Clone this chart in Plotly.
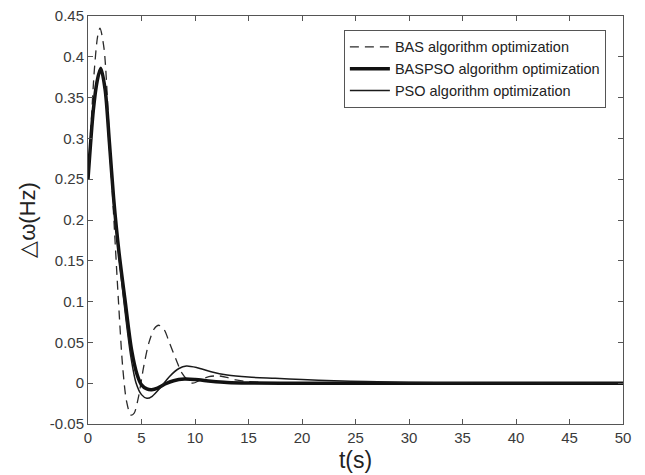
import plotly.graph_objects as go

# BAS algorithm optimization (dashed)
t_bas = [0, 0.3, 0.6, 0.9, 1.12, 1.5, 2.0, 2.37, 2.84, 3.24, 3.6, 4.0, 4.3, 4.7, 5.2, 5.7, 6.2, 6.6, 7.1, 7.6, 8.2, 8.8, 9.3, 9.8, 10.5, 11.3, 12.2, 13.0, 13.8, 15.0, 17.0, 20.0, 30.0, 50.0]
y_bas = [0.25, 0.32, 0.385, 0.425, 0.435, 0.41, 0.30, 0.212, 0.102, 0.02, -0.022, -0.039, -0.037, -0.018, 0.02, 0.05, 0.067, 0.071, 0.066, 0.05, 0.03, 0.012, 0.004, 0.0, 0.004, 0.008, 0.009, 0.007, 0.004, 0.002, 0.0005, 0.0, 0.0, 0.0]

# BASPSO algorithm optimization (thick)
t_baspso = [0, 0.5, 0.85, 1.19, 1.6, 2.0, 2.4, 2.9, 3.46, 4.07, 4.6, 5.0, 5.5, 5.95, 6.5, 7.2, 8.0, 9.0, 10.0, 11.5, 13.0, 15.0, 20.0, 30.0, 50.0]
y_baspso = [0.25, 0.335, 0.37, 0.386, 0.36, 0.295, 0.226, 0.16, 0.102, 0.041, 0.01, -0.002, -0.007, -0.008, -0.006, -0.001, 0.003, 0.005, 0.0045, 0.0025, 0.001, 0.0003, 0.0, 0.0, 0.0]

# PSO algorithm optimization (thin)
t_pso = [0, 0.5, 0.85, 1.2, 1.6, 2.0, 2.4, 2.9, 3.4, 4.0, 4.5, 5.0, 5.5, 6.0, 6.8, 7.6, 8.5, 9.2, 10.2, 11.5, 13.0, 15.0, 17.5, 20.0, 23.0, 26.0, 30.0, 35.0, 40.0, 50.0]
y_pso = [0.25, 0.335, 0.37, 0.385, 0.358, 0.29, 0.22, 0.155, 0.095, 0.033, 0.0, -0.014, -0.0185, -0.016, -0.005, 0.008, 0.018, 0.021, 0.019, 0.014, 0.01, 0.0075, 0.006, 0.0045, 0.003, 0.002, 0.001, 0.0004, 0.0001, 0.0]

x_ticks = [0, 5, 10, 15, 20, 25, 30, 35, 40, 45, 50]
y_ticks = [-0.05, 0, 0.05, 0.1, 0.15, 0.2, 0.25, 0.3, 0.35, 0.4, 0.45]
y_tick_text = ["-0.05", "0", "0.05", "0.1", "0.15", "0.2", "0.25", "0.3", "0.35", "0.4", "0.45"]

FONT = "Liberation Sans, Arial"

fig = go.Figure()
fig.add_trace(go.Scatter(x=t_bas, y=y_bas, mode="lines", name="BAS algorithm optimization",
                         line=dict(color="#2a2a2a", width=1.3, dash="9px,6px", shape="spline", smoothing=0.8)))
fig.add_trace(go.Scatter(x=t_baspso, y=y_baspso, mode="lines", name="BASPSO algorithm optimization",
                         line=dict(color="#111111", width=3.5, shape="spline", smoothing=0.8)))
fig.add_trace(go.Scatter(x=t_pso, y=y_pso, mode="lines", name="PSO algorithm optimization",
                         line=dict(color="#1a1a1a", width=1.5, shape="spline", smoothing=0.8)))

axis_common = dict(showline=True, linecolor="#555555", linewidth=1, mirror="ticks", ticks="inside",
                   ticklen=5, tickcolor="#555555", showgrid=False, zeroline=False, automargin=False,
                   ticklabeloverflow="allow",
                   tickfont=dict(family=FONT, size=15, color="#3a3a3a"))

fig.update_layout(
    width=645, height=475,
    margin=dict(l=88, r=22, t=16, b=51),
    paper_bgcolor="white", plot_bgcolor="white",
    xaxis=dict(range=[0, 50], tickvals=x_ticks,
               title=dict(text="t(s)", font=dict(family=FONT, size=23, color="#222222"), standoff=6),
               **axis_common),
    yaxis=dict(range=[-0.05, 0.45], tickvals=y_ticks, ticktext=y_tick_text,
               title=dict(text="\u25b3\u03c9(Hz)", font=dict(family=FONT, size=22, color="#222222"), standoff=8),
               **axis_common),
    legend=dict(x=0.968, y=0.966, xanchor="right", yanchor="top",
                bgcolor="white", bordercolor="#555555", borderwidth=1,
                font=dict(family=FONT, size=14.5, color="#222222"),
                tracegroupgap=0, itemwidth=40),
    showlegend=True,
)

fig.write_html("out.html", config={"displayModeBar": False},
               post_script="document.body.style.margin='0px';")
